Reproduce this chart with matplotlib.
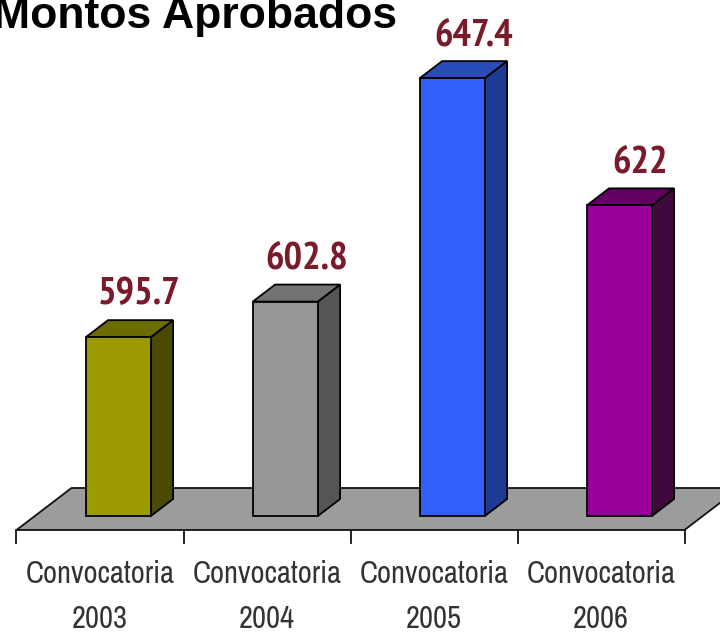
import matplotlib
matplotlib.use("Agg")
import matplotlib.pyplot as plt
from matplotlib.patches import Polygon
from matplotlib import font_manager

# Data
years = ["2003", "2004", "2005", "2006"]
tick_labels = ["Convocatoria\n" + y for y in years]
values = [595.7, 602.8, 647.4, 622.0]
value_labels = ["595.7", "602.8", "647.4", "622"]

front_colors = ["#9a9a00", "#979797", "#3360fa", "#990099"]
side_colors = ["#4a4a00", "#555555", "#1f3a94", "#3e0a3e"]
top_colors = ["#6b6b00", "#747474", "#2a4cb8", "#620062"]

# Scale of the pseudo 3D drawing (pixels per unit)
X_PX = 167.0
Y_PX = 5.01
V_BASE = 560.0
SLOPE = 1.31


def depth(px):
    """ Offset in data units for a depth of px pixels (up/right). """
    return px * SLOPE / X_PX, px / Y_PX


def narrow_font(bold, size):
    """ Look for a narrow / condensed font file, bold or regular. """
    for key in ["Narrow", "Condensed"]:
        for f in font_manager.fontManager.ttflist:
            if key not in f.name or f.style != "normal":
                continue
            w = f.weight
            if not isinstance(w, int):
                w = font_manager.weight_dict.get(w, 400)
            if (w >= 600) == bold:
                return font_manager.FontProperties(fname=f.fname, size=size)
    return font_manager.FontProperties(family="Liberation Sans", size=size,
                                       weight="bold" if bold else "normal")


value_font = narrow_font(True, 28)
cat_font = narrow_font(False, 22)

fig = plt.figure(figsize=(7.2, 6.35), dpi=100)
ax = fig.add_axes([0, 0, 1, 1])
ax.set_xlim(-100 / X_PX, 620 / X_PX)
ax.set_ylim(V_BASE - 119 / Y_PX, V_BASE + 516 / Y_PX)
ax.axis("off")

# Floor
n = len(values)
fdx, fdv = depth(42)
v_front = V_BASE - 14 / Y_PX
floor = Polygon([(-0.5, v_front), (n - 0.5, v_front),
                 (n - 0.5 + fdx, v_front + fdv), (-0.5 + fdx, v_front + fdv)],
                closed=True, facecolor="#9c9c9c", edgecolor="#111111", lw=1.3)
ax.add_patch(floor)

# Ticks on the front edge
for k in range(n + 1):
    ax.plot([k - 0.5, k - 0.5], [v_front, v_front - 13 / Y_PX],
            color="#111111", lw=1.3)

# Bars
width = 65 / X_PX
bdx, bdv = depth(14)
ddx, ddv = depth(17)
for i, val in enumerate(values):
    xl = i - width / 2 + bdx
    xr = xl + width
    front = Polygon([(xl, V_BASE), (xr, V_BASE), (xr, val), (xl, val)],
                    facecolor=front_colors[i], edgecolor="black", lw=1.3)
    side = Polygon([(xr, V_BASE), (xr + ddx, V_BASE + ddv),
                    (xr + ddx, val + ddv), (xr, val)],
                   facecolor=side_colors[i], edgecolor="black", lw=1.3)
    top = Polygon([(xl, val), (xr, val), (xr + ddx, val + ddv),
                   (xl + ddx, val + ddv)],
                  facecolor=top_colors[i], edgecolor="black", lw=1.3)
    for p in (side, top, front):
        ax.add_patch(p)

    # Value label above the bar
    ax.text(i + bdx + 21 / X_PX, val + ddv + 16 / Y_PX,
            value_labels[i], ha="center", va="baseline", color="#7a1a2a",
            fontproperties=value_font)

    # Category label in two lines
    first, second = tick_labels[i].split("\n")
    ax.text(i, v_front - 53 / Y_PX, first, ha="center", va="baseline",
            color="#333333", fontproperties=cat_font)
    ax.text(i, v_front - 98 / Y_PX, second, ha="center", va="baseline",
            color="#333333", fontproperties=cat_font)

fig.text(397 / 720, 1 - 28 / 635, "Montos Aprobados", ha="right",
         va="baseline", fontsize=32, fontweight="bold", color="black",
         family=["Liberation Sans", "DejaVu Sans"])

fig.savefig("out.png", dpi=100)
